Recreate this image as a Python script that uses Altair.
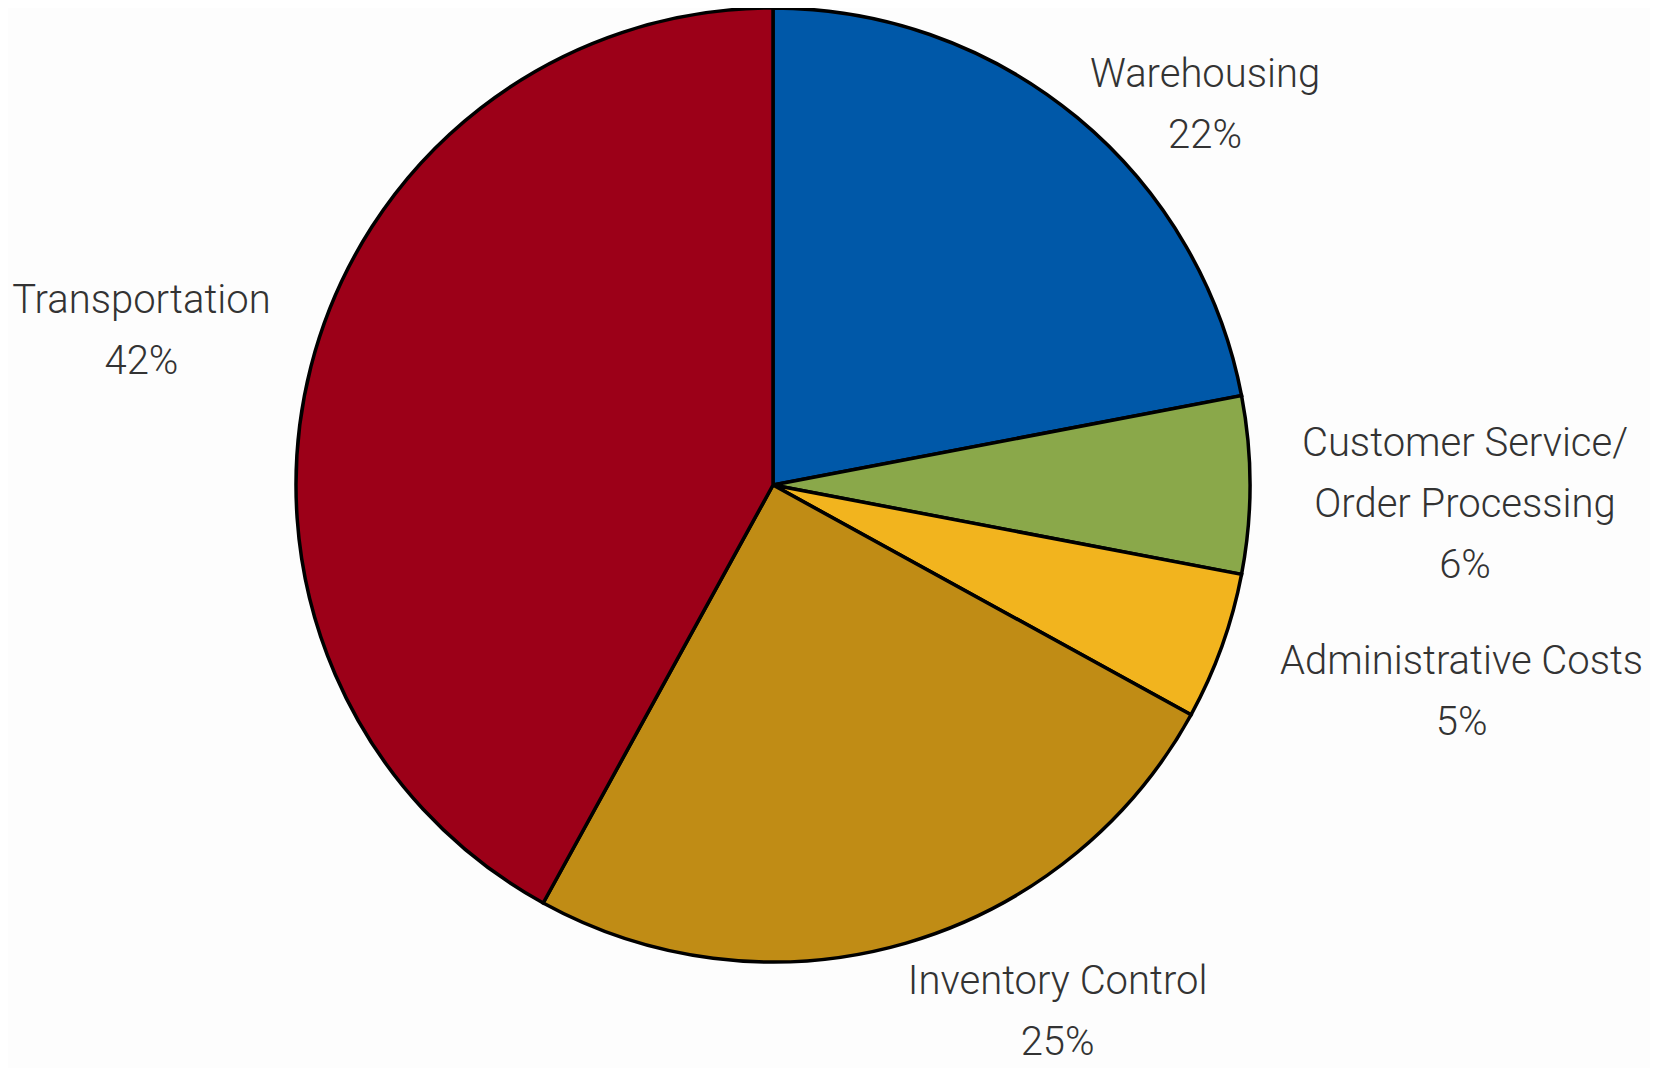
import altair as alt
import pandas as pd

# ---- data ----
categories = [
    "Warehousing",
    "Customer Service/\nOrder Processing",
    "Administrative Costs",
    "Inventory Control",
    "Transportation",
]
shares = [22, 6, 5, 25, 42]
colors = ["#0058A8", "#8AA84A", "#F2B41E", "#C08C15", "#9C0018"]

TOTAL = sum(shares)
df = pd.DataFrame({"category": categories, "share": shares, "idx": list(range(len(categories)))})

# ---- label layout (radius from centre, extra offsets) ----
label_layout = {
    "Warehousing": (590, 56, 57),
    "Customer Service/\nOrder Processing": (692, 0, -29),
    "Administrative Costs": (700, 30, -48),
    "Inventory Control": (590, 120, -58),
    "Transportation": (650, -2, -10),
}

FONT = "Liberation Sans Narrow, Arial Narrow, Roboto, sans-serif"

base = alt.Chart(df)

pie = base.mark_arc(stroke="black", strokeWidth=3.5).encode(
    theta=alt.Theta("share:Q", stack=True, scale=alt.Scale(domain=[0, TOTAL])),
    order=alt.Order("idx:Q"),
    color=alt.Color(
        "category:N",
        scale=alt.Scale(domain=categories, range=colors),
        legend=None,
    ),
)

layers = [pie]
for cat in categories:
    r, dx, dy = label_layout[cat]
    t = (
        base.transform_window(
            cum="sum(share)", sort=[alt.SortField("idx")], frame=[None, 0]
        )
        .transform_calculate(
            mid="datum.cum - datum.share / 2",
            label="datum.category + '\\n' + datum.share + '%'",
        )
        .transform_filter(alt.datum.category == cat)
        .mark_text(
            radius=r,
            dx=dx,
            dy=dy,
            align="center",
            baseline="alphabetic",
            lineBreak="\n",
            lineHeight=61,
            font=FONT,
            fontSize=40,
            fontWeight=300,
            color="#333333",
        )
        .encode(
            theta=alt.Theta("mid:Q", scale=alt.Scale(domain=[0, TOTAL])),
            text="label:N",
        )
    )
    layers.append(t)

chart = (
    alt.layer(*layers)
    .properties(
        width=1530,
        height=954,
        padding={"left": 0, "top": 0, "right": 112, "bottom": 106},
        autosize=alt.AutoSizeParams(type="none"),
        background="#FDFDFD",
    )
    .configure_view(stroke=None)
)

chart.save("out.html", embed_options={"renderer": "svg", "actions": False})
